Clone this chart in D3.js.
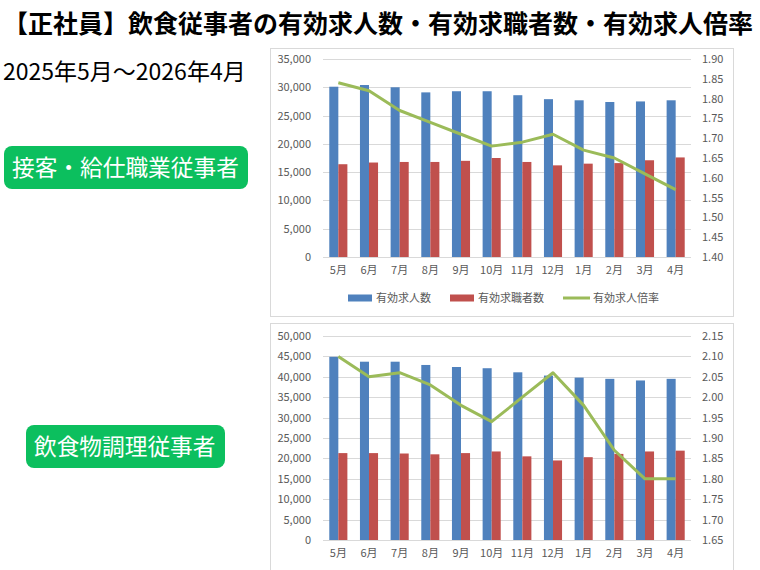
<!DOCTYPE html>
<html><head><meta charset="utf-8">
<script src="https://cdn.jsdelivr.net/npm/d3@7/dist/d3.min.js"></script>
<style>
html,body{margin:0;padding:0;background:#fff;}
svg{display:block;font-family:"Noto Sans CJK JP","Noto Sans",sans-serif;}
</style></head>
<body>
<svg id="c" width="760" height="570"></svg>
<script>
const months = ["5月","6月","7月","8月","9月","10月","11月","12月","1月","2月","3月","4月"];
const seriesNames = ["有効求人数","有効求職者数","有効求人倍率"];

// 接客・給仕職業従事者
const serviceOpenings = [30100,30400,30000,29100,29300,29300,28600,27900,27700,27400,27500,27700];
const serviceSeekers  = [16400,16700,16800,16800,17000,17500,16800,16200,16500,16600,17100,17600];
const serviceRatio    = [1.84,1.82,1.77,1.74,1.71,1.68,1.69,1.71,1.67,1.65,1.61,1.57];
const serviceLeftTicks  = [0,5000,10000,15000,20000,25000,30000,35000];
const serviceRightTicks = [1.40,1.45,1.50,1.55,1.60,1.65,1.70,1.75,1.80,1.85,1.90];

// 飲食物調理従事者
const cookOpenings = [44900,43700,43700,42900,42400,42100,41100,40300,39800,39500,39100,39500];
const cookSeekers  = [21300,21300,21200,21000,21300,21700,20500,19500,20300,21100,21700,21900];
const cookRatio    = [2.10,2.05,2.06,2.03,1.98,1.94,2.00,2.06,1.98,1.87,1.80,1.80];
const cookLeftTicks  = [0,5000,10000,15000,20000,25000,30000,35000,40000,45000,50000];
const cookRightTicks = [1.65,1.70,1.75,1.80,1.85,1.90,1.95,2.00,2.05,2.10,2.15];

const titleText = "【正社員】飲食従事者の有効求人数・有効求職者数・有効求人倍率";
const subtitleText = "2025年5月～2026年4月";
const label1 = "接客・給仕職業従事者";
const label2 = "飲食物調理従事者";

const BLUE = "#4f81bd", RED = "#c0504d", GREEN = "#9bbb59", GRID = "#d9d9d9", TXT = "#595959";

const svg = d3.select("#c");

svg.append("text").attr("x", 3).attr("y", 33)
  .attr("font-size", 25).attr("font-weight", 700).attr("fill", "#000")
  .text(titleText);
svg.append("text").attr("x", 3).attr("y", 80)
  .attr("font-size", 23).attr("fill", "#000")
  .text(subtitleText);

function badge(x, y, w, h, textX, txt) {
  svg.append("rect").attr("x", x).attr("y", y).attr("width", w).attr("height", h)
    .attr("rx", 8).attr("fill", "#0cbf5e");
  svg.append("text").attr("x", textX).attr("y", y + h / 2).attr("dy", "0.36em")
    .attr("font-size", 22.7).attr("fill", "#fff").text(txt);
}
badge(4, 146, 244, 43, 12, label1);
badge(26, 425, 199, 43, 34, label2);

function chart(o) {
  const g = svg.append("g");
  g.append("rect").attr("x", o.panel[0] + 0.5).attr("y", o.panel[1] + 0.5)
    .attr("width", o.panel[2]).attr("height", o.panel[3])
    .attr("fill", "none").attr("stroke", GRID);

  const x = d3.scaleBand().domain(months).range([323, 691]).paddingInner(0.41).paddingOuter(0.205);
  const x1 = d3.scaleBand().domain(["a", "b"]).range([0, x.bandwidth()]);
  const yL = d3.scaleLinear().domain(o.leftDomain).range([o.bottom, o.top]);
  const yR = d3.scaleLinear().domain(o.rightDomain).range([o.bottom, o.top]);

  g.selectAll(".grid").data(o.leftTicks).join("line")
    .attr("x1", 323).attr("x2", 691)
    .attr("y1", d => Math.round(yL(d)) + 0.5).attr("y2", d => Math.round(yL(d)) + 0.5)
    .attr("stroke", GRID).attr("stroke-width", 1);

  const axL = d3.axisLeft(yL).tickValues(o.leftTicks).tickFormat(d3.format(",")).tickSize(0).tickPadding(0);
  const gl = g.append("g").attr("transform", "translate(311,0)").call(axL);
  gl.select(".domain").remove();
  gl.selectAll("text").attr("fill", TXT).attr("font-size", 11).attr("font-family", "'Noto Sans CJK JP',sans-serif");

  const axR = d3.axisRight(yR).tickValues(o.rightTicks).tickFormat(d3.format(".2f")).tickSize(0).tickPadding(0);
  const gr = g.append("g").attr("transform", "translate(702,0)").call(axR);
  gr.select(".domain").remove();
  gr.selectAll("text").attr("fill", TXT).attr("font-size", 11).attr("font-family", "'Noto Sans CJK JP',sans-serif");

  const axX = d3.axisBottom(x).tickSize(0).tickPadding(0);
  const gx = g.append("g").attr("transform", `translate(0,${o.bottom + 9})`).call(axX);
  gx.select(".domain").remove();
  gx.selectAll("text").attr("fill", TXT).attr("font-size", 11).attr("dy", "0.71em").attr("font-family", "'Noto Sans CJK JP',sans-serif");

  const data = months.map((m, i) => ({ m, a: o.openings[i], b: o.seekers[i], r: o.ratio[i] }));
  g.selectAll(".ba").data(data).join("rect")
    .attr("x", d => x(d.m) + x1("a")).attr("width", x1.bandwidth())
    .attr("y", d => yL(d.a)).attr("height", d => yL(0) - yL(d.a)).attr("fill", BLUE);
  g.selectAll(".bb").data(data).join("rect")
    .attr("x", d => x(d.m) + x1("b")).attr("width", x1.bandwidth())
    .attr("y", d => yL(d.b)).attr("height", d => yL(0) - yL(d.b)).attr("fill", RED);

  const line = d3.line().x(d => x(d.m) + x.bandwidth() / 2).y(d => yR(d.r));
  g.append("path").datum(data).attr("d", line).attr("fill", "none")
    .attr("stroke", GREEN).attr("stroke-width", 3).attr("stroke-linejoin", "round");

  if (o.legend) {
    const ly = o.legendY;
    const items = [
      { n: seriesNames[0], c: BLUE, x: 348, t: "rect" },
      { n: seriesNames[1], c: RED, x: 450, t: "rect" },
      { n: seriesNames[2], c: GREEN, x: 563, t: "line" }
    ];
    items.forEach(it => {
      if (it.t === "rect") {
        g.append("rect").attr("x", it.x).attr("y", ly - 3.5).attr("width", 24).attr("height", 7).attr("fill", it.c);
      } else {
        g.append("line").attr("x1", it.x).attr("x2", it.x + 27).attr("y1", ly).attr("y2", ly)
          .attr("stroke", it.c).attr("stroke-width", 3);
      }
      g.append("text").attr("x", it.x + (it.t === "rect" ? 28 : 30)).attr("y", ly).attr("dy", "0.35em")
        .attr("font-size", 11).attr("fill", TXT).text(it.n);
    });
  }
}

chart({
  panel: [270, 48, 463, 268],
  top: 59, bottom: 257,
  leftDomain: [0, 35000], rightDomain: [1.40, 1.90],
  leftTicks: serviceLeftTicks, rightTicks: serviceRightTicks,
  openings: serviceOpenings, seekers: serviceSeekers, ratio: serviceRatio,
  legend: true, legendY: 298
});
chart({
  panel: [270, 323, 463, 260],
  top: 336, bottom: 540,
  leftDomain: [0, 50000], rightDomain: [1.65, 2.15],
  leftTicks: cookLeftTicks, rightTicks: cookRightTicks,
  openings: cookOpenings, seekers: cookSeekers, ratio: cookRatio,
  legend: false
});
</script>
</body></html>
